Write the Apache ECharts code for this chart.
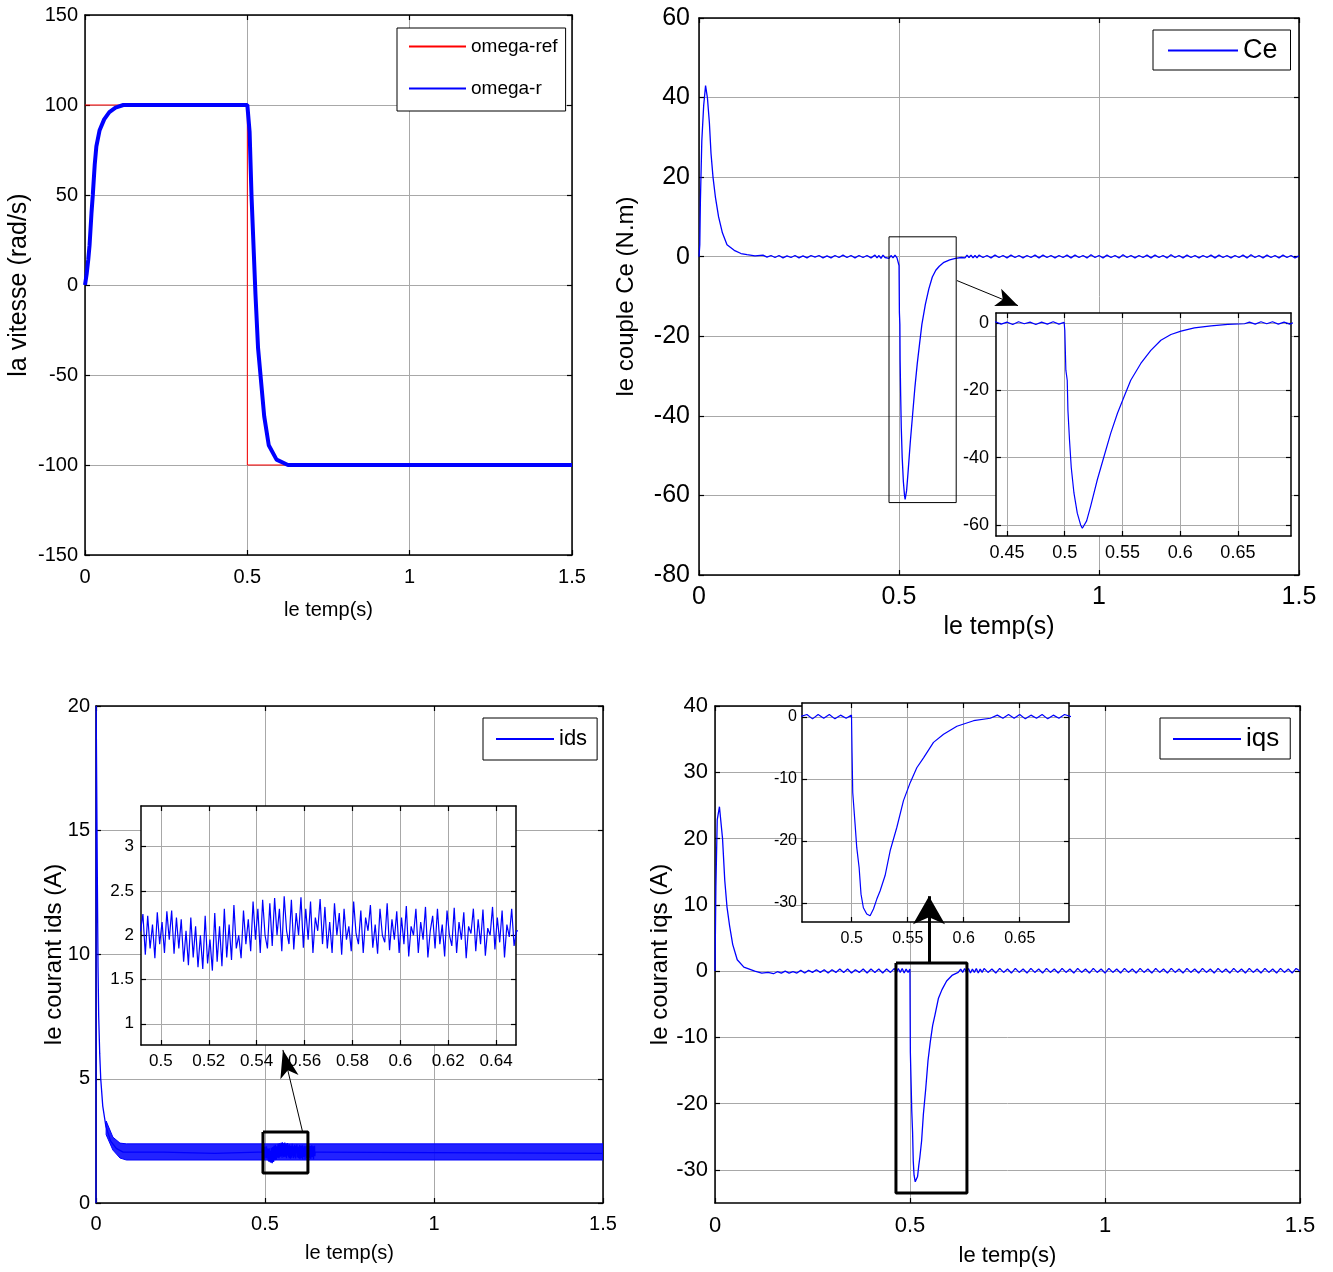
<!DOCTYPE html>
<html><head><meta charset="utf-8">
<script src="https://cdn.jsdelivr.net/npm/echarts@6/dist/echarts.min.js"></script>
<style>html,body{margin:0;padding:0;background:#fff}#c{width:1333px;height:1272px}</style>
</head><body><div id="c"></div>
<script>
// ---------- tick values ----------
const timeTicks = [0, 0.5, 1, 1.5];
const speedTicks = [-150, -100, -50, 0, 50, 100, 150];
const torqueTicks = [-80, -60, -40, -20, 0, 20, 40, 60];
const torqueZoomTimeTicks = [0.45, 0.5, 0.55, 0.6, 0.65];
const torqueZoomTicks = [-60, -40, -20, 0];
const idsTicks = [0, 5, 10, 15, 20];
const idsZoomTimeTicks = [0.5, 0.52, 0.54, 0.56, 0.58, 0.6, 0.62, 0.64];
const idsZoomTicks = [1, 1.5, 2, 2.5, 3];
const iqsTicks = [-30, -20, -10, 0, 10, 20, 30, 40];
const iqsZoomTimeTicks = [0.5, 0.55, 0.6, 0.65];
const iqsZoomTicks = [-30, -20, -10, 0];

// ---------- speed ----------
const omegaRef = [[0,100],[0.5,100],[0.5,-100],[1.5,-100]];
const omegaR = [[0,0],[0.005,6],[0.01,14],[0.014,22],[0.02,40],[0.024,50],[0.03,67],[0.035,77],[0.045,86],[0.059,92],[0.075,96],[0.094,98.5],[0.118,100],[0.5,100],[0.501,99],[0.507,85],[0.513,49],[0.525,-5],[0.533,-35],[0.542,-53],[0.552,-73],[0.566,-89],[0.59,-97],[0.625,-100],[1.5,-100]];

// ---------- torque Ce ----------
const ce = [[0,0],[0.002,3],[0.0035,14],[0.007,29],[0.0117,38],[0.0164,43],[0.021,40],[0.026,33.6],[0.03,26],[0.035,20],[0.041,15],[0.049,10],[0.0585,6],[0.07,3],[0.088,1.6],[0.105,0.8],[0.12,0.5],[0.14,0.2],
[0.16,0.4],[0.17,-0.1],[0.18,0.3],[0.19,-0.2],[0.2,0.3],[0.21,-0.3],[0.22,0.2],[0.23,-0.2],[0.24,0.3],[0.25,-0.3],[0.26,0.2],[0.27,-0.3],[0.28,0.3],[0.29,-0.1],[0.3,0.3],[0.31,-0.3],[0.32,0.2],[0.33,-0.3],[0.34,0.3],[0.35,-0.2],[0.36,0.4],[0.37,-0.2],[0.38,0.3],[0.39,-0.3],[0.4,0.3],[0.41,-0.2],[0.42,0.3],[0.43,-0.3],[0.44,0.4],[0.445,-0.3],[0.45,0.3],[0.455,-0.4],[0.46,0.4],[0.465,-0.2],[0.47,0.3],[0.475,-0.4],[0.48,0.3],[0.485,-0.3],[0.49,0.4],[0.495,-0.3],[0.4995,0.2],
[0.5001,-2.2],[0.501,-14],[0.5022,-17],[0.5028,-26],[0.5042,-35],[0.5057,-43],[0.508,-50.5],[0.5109,-56.5],[0.5138,-60],[0.5153,-61],[0.5167,-60.8],[0.519,-58.8],[0.5225,-54.4],[0.5283,-46.5],[0.5341,-39.6],[0.5399,-32.7],[0.5457,-26.8],[0.5514,-21.9],[0.5572,-17],[0.5659,-12],[0.5746,-8.1],[0.5833,-5.1],[0.592,-3.4],[0.6007,-2.4],[0.6123,-1.4],[0.6268,-0.8],[0.6413,-0.4],[0.6558,-0.2],
[0.66,0.3],[0.665,-0.3],[0.67,0.4],[0.675,-0.2],[0.68,0.4],[0.685,-0.3],[0.69,0.3],[0.695,-0.3],[0.7,0.4],[0.71,-0.2],[0.72,0.3],[0.73,-0.3],[0.74,0.4],[0.75,-0.2],[0.76,0.3],[0.77,-0.3],[0.78,0.4],[0.79,-0.2],[0.8,0.3],[0.81,-0.3],[0.82,0.3],[0.83,-0.2],[0.84,0.4],[0.85,-0.3],[0.86,0.4],[0.87,-0.2],[0.88,0.3],[0.89,-0.3],[0.9,0.3],[0.91,-0.2],[0.92,0.4],[0.93,-0.3],[0.94,0.4],[0.95,-0.2],[0.96,0.3],[0.97,-0.3],[0.98,0.5],[0.99,-0.2],[1,0.3],[1.01,-0.3],[1.02,0.4],[1.03,-0.2],[1.04,0.3],[1.05,-0.3],[1.06,0.5],[1.07,-0.2],[1.08,0.3],[1.09,-0.3],[1.1,0.3],[1.11,-0.2],[1.12,0.4],[1.13,-0.3],[1.14,0.4],[1.15,-0.2],[1.16,0.3],[1.17,-0.3],[1.18,0.5],[1.19,-0.2],[1.2,0.3],[1.21,-0.3],[1.22,0.4],[1.23,-0.2],[1.24,0.3],[1.25,-0.3],[1.26,0.3],[1.27,-0.2],[1.28,0.4],[1.29,-0.3],[1.3,0.4],[1.31,-0.2],[1.32,0.3],[1.33,-0.3],[1.34,0.3],[1.35,-0.2],[1.36,0.4],[1.37,-0.3],[1.38,0.5],[1.39,-0.2],[1.4,0.3],[1.41,-0.3],[1.42,0.4],[1.43,-0.2],[1.44,0.3],[1.45,-0.3],[1.46,0.4],[1.47,-0.2],[1.48,0.3],[1.49,-0.3],[1.5,0.2]];

// ---------- ids ----------
const idsStart = [[0,0],[0.0005,20],[0.002,17],[0.004,13],[0.006,9.5],[0.008,7.5],[0.011,6],[0.014,5],[0.02,3.9],[0.029,3.1],[0.043,2.5],[0.06,2.2],[0.08,2.05],[0.2,2.05],[0.35,2.0],[0.48,2.05]];
const idsZoomStart = 0.4915;
const idsZoomStep = 0.001;
const idsZoomValues = [2.05,2.24,1.78,2.22,1.85,2.12,1.74,2.26,
1.9,2.15,1.8,2.27,1.95,2.28,1.79,2.2,1.85,
2.18,1.7,2.05,1.66,2.2,1.75,2.1,1.64,2.0,
1.62,2.22,1.68,1.95,1.6,2.25,1.7,2.1,1.65,
2.3,1.75,2.12,1.72,2.34,1.85,2.0,1.74,2.28,1.9,2.18,
1.82,2.38,1.95,2.3,1.8,2.4,2.0,1.85,2.36,
1.88,2.42,2.0,2.3,1.82,2.44,2.05,1.9,2.4,1.84,2.25,2.0,2.43,1.86,2.3,1.95,2.38,1.8,2.2,2.05,2.41,1.9,
2.32,1.85,2.15,1.8,2.36,2.0,2.25,1.78,2.3,1.95,2.1,1.82,2.38,2.02,1.9,2.28,1.8,2.2,2.05,2.34,1.86,2.12,1.79,2.3,2.0,1.92,2.36,1.83,2.18,1.95,2.27,1.8,
2.2,1.9,2.33,1.76,2.1,2.0,2.3,1.8,2.15,1.95,2.32,1.75,2.05,2.22,1.85,2.3,1.9,2.12,1.76,2.28,2.0,1.88,2.31,1.8,2.15,1.95,2.26,1.74,2.1,2.02,2.3,1.82,2.18,1.9,2.29,1.77,2.08,2.0,2.32,1.84,2.2,1.92,2.28,1.75,2.12,1.98,2.3,1.88,2.05];
const idsEnd = [[0.66,2.05],[1.5,2.0]];
// ripple envelope of ids in the main plot
const idsBandTime = [0.03, 0.05, 0.071, 0.09, 1.5];
const idsBandLow  = [2.75, 2.13, 1.81, 1.73, 1.73];
const idsBandHigh = [3.3, 2.65, 2.41, 2.38, 2.38];

// ---------- iqs ----------
const iqs = [[0,0],[0.0023,12.8],[0.0057,22.8],[0.0114,24.8],[0.016,24.5],[0.0193,20],[0.025,13.7],[0.0307,9.7],[0.0375,6.8],[0.0455,4],[0.057,1.7],[0.074,0.6],[0.102,0],[0.12,-0.3],[0.136,-0.2],
[0.15,-0.4],[0.16,-0.1],[0.17,-0.3],[0.18,0],[0.19,-0.3],[0.2,-0.1],[0.21,-0.3],[0.22,0.1],[0.23,-0.3],[0.24,0.1],[0.25,-0.2],[0.26,0.2],[0.27,-0.2],[0.28,0.2],[0.29,-0.3],[0.3,0.2],[0.31,-0.2],[0.32,0.3],[0.33,-0.2],[0.34,0.3],[0.35,-0.3],[0.36,0.2],[0.37,-0.2],[0.38,0.3],[0.39,-0.3],[0.4,0.3],[0.41,-0.2],[0.42,0.3],[0.43,-0.3],[0.44,0.3],[0.45,-0.2],[0.46,0.4],[0.465,-0.3],[0.47,0.4],[0.475,-0.2],[0.48,0.4],[0.485,-0.3],[0.49,0.3],[0.495,-0.2],[0.4998,0.3],
[0.5003,-5.8],[0.5009,-12.2],[0.503,-17.3],[0.5045,-21.1],[0.5066,-24.3],[0.5083,-28.6],[0.5104,-30.8],[0.5134,-31.8],[0.5164,-32.1],[0.5194,-31],[0.5224,-29.4],[0.5253,-28.1],[0.5298,-25.6],[0.5343,-21.6],[0.5403,-17.8],[0.5462,-13.5],[0.5522,-10.6],[0.5581,-8.2],[0.5641,-6.6],[0.573,-4.1],[0.582,-2.8],[0.5939,-1.5],[0.6088,-0.6],[0.6237,-0.2],
[0.63,0.3],[0.635,-0.2],[0.64,0.4],[0.645,-0.2],[0.65,0.4],[0.655,-0.3],[0.66,0.3],[0.665,-0.2],[0.67,0.4],[0.675,-0.3],[0.68,0.3],[0.685,-0.2],[0.69,0.4],[0.7,-0.2],[0.71,0.3],[0.72,-0.3],[0.73,0.4],[0.74,-0.2],[0.75,0.3],[0.76,-0.3],[0.77,0.4],[0.78,-0.2],[0.79,0.3],[0.8,-0.3],[0.81,0.4],[0.82,-0.2],[0.83,0.3],[0.84,-0.3],[0.85,0.4],[0.86,-0.2],[0.87,0.3],[0.88,-0.3],[0.89,0.4],[0.9,-0.2],[0.91,0.3],[0.92,-0.3],[0.93,0.4],[0.94,-0.2],[0.95,0.3],[0.96,-0.3],[0.97,0.4],[0.98,-0.2],[0.99,0.3],[1,-0.3],[1.01,0.4],[1.02,-0.2],[1.03,0.3],[1.04,-0.3],[1.05,0.4],[1.06,-0.2],[1.07,0.3],[1.08,-0.3],[1.09,0.4],[1.1,-0.2],[1.11,0.3],[1.12,-0.3],[1.13,0.4],[1.14,-0.2],[1.15,0.3],[1.16,-0.3],[1.17,0.4],[1.18,-0.2],[1.19,0.3],[1.2,-0.3],[1.21,0.4],[1.22,-0.2],[1.23,0.3],[1.24,-0.3],[1.25,0.4],[1.26,-0.2],[1.27,0.3],[1.28,-0.3],[1.29,0.4],[1.3,-0.2],[1.31,0.3],[1.32,-0.3],[1.33,0.4],[1.34,-0.2],[1.35,0.3],[1.36,-0.3],[1.37,0.4],[1.38,-0.2],[1.39,0.3],[1.4,-0.3],[1.41,0.4],[1.42,-0.2],[1.43,0.3],[1.44,-0.3],[1.45,0.4],[1.46,-0.2],[1.47,0.3],[1.48,-0.3],[1.49,0.4],[1.5,0]];

// ---------- zoom boxes and arrows (data coordinates of the main plots) ----------
const ceBox = [[0.475,5],[0.643,5],[0.643,-61.8],[0.475,-61.8],[0.475,5]];
const ceArrow = [[0.645,-6],[0.7975,-12.3]];
const idsBox = [[0.494,2.86],[0.627,2.86],[0.627,1.21],[0.494,1.21],[0.494,2.86]];
const idsArrow = [[0.612,2.82],[0.553,6.16]];
const iqsBox = [[0.464,1.2],[0.646,1.2],[0.646,-33.5],[0.464,-33.5],[0.464,1.2]];
const iqsArrow = [[0.5487,1.2],[0.5487,11.3]];

// ---------- build ----------
const REG = "'Liberation Sans',Arial,sans-serif";
const BLUE = '#0000ff';
const fmt = v => String(+(+v).toFixed(4));

const grids = [], xAxes = [], yAxes = [], series = [], legends = [];

function addPanel(c) {
  const g = grids.length;
  grids.push({left: c.box[0], top: c.box[1], width: c.box[2], height: c.box[3], show: true,
    backgroundColor: '#fff', borderWidth: 0, z: c.z, containLabel: false, outerBoundsMode: 'none'});
  const line = {show: true, onZero: false, lineStyle: {color: '#000', width: 1.5}};
  const tick = t => ({show: true, inside: true, length: 5, customValues: t, lineStyle: {color: '#000', width: 1.2}});
  const split = {show: true, lineStyle: {color: '#a8a8a8', width: 1, type: 'solid'}};
  const lab = (t, m) => ({show: true, customValues: t, margin: m, formatter: fmt, color: '#000', fontFamily: REG, fontSize: c.fs});
  xAxes.push({type: 'value', gridIndex: g, position: 'bottom', min: c.x[0], max: c.x[1], z: c.z + 1,
    axisLine: line, axisTick: tick(c.xt), axisLabel: lab(c.xt, c.xm), splitLine: split,
    name: c.xn || '', nameLocation: 'middle', nameGap: c.xng || 0, nameMoveOverlap: false,
    nameTextStyle: {color: '#000', fontFamily: REG, fontSize: c.nfs}});
  xAxes.push({type: 'value', gridIndex: g, position: 'top', min: c.x[0], max: c.x[1], z: c.z + 1,
    axisLine: line, axisTick: tick(c.xt), axisLabel: {show: false}, splitLine: {show: false}});
  yAxes.push({type: 'value', gridIndex: g, position: 'left', min: c.y[0], max: c.y[1], z: c.z + 1,
    axisLine: line, axisTick: tick(c.yt), axisLabel: lab(c.yt, c.ym), splitLine: split,
    name: c.yn || '', nameLocation: 'middle', nameGap: c.yng || 0, nameMoveOverlap: false,
    nameTextStyle: {color: '#000', fontFamily: REG, fontSize: c.ynfs}});
  yAxes.push({type: 'value', gridIndex: g, position: 'right', min: c.y[0], max: c.y[1], z: c.z + 1,
    axisLine: line, axisTick: tick(c.yt), axisLabel: {show: false}, splitLine: {show: false}});
  return 2 * g;
}

function addLine(ax, name, data, color, width, z, extra) {
  series.push(Object.assign({type: 'line', name: name, xAxisIndex: ax, yAxisIndex: ax, data: data,
    symbol: 'none', showSymbol: false, silent: true, animation: false, clip: true, z: z,
    lineStyle: {color: color, width: width}, itemStyle: {color: color}}, extra || {}));
}

function addBand(ax, time, low, high, color, z) {
  series.push({type: 'custom', name: 'band', xAxisIndex: ax, yAxisIndex: ax, silent: true, animation: false, clip: true, z: z,
    data: [[time[0], low[0]]],
    renderItem: function (params, api) {
      const up = time.map((t, i) => api.coord([t, high[i]]));
      const dn = time.map((t, i) => api.coord([t, low[i]])).reverse();
      return {type: 'polygon', shape: {points: up.concat(dn)}, style: {fill: color, stroke: BLUE, lineWidth: 1}};
    }});
}

function addBox(ax, name, box, arrow, w, lw, size) {
  addLine(ax, name, box, '#000', w, 30, {clip: false, markLine: {silent: true, animation: false, z: 30,
    symbol: ['none', 'arrow'], label: {show: false},
    lineStyle: {color: '#000', width: lw, type: 'solid'}, emphasis: {disabled: true},
    data: [[{coord: arrow[0], symbol: 'none'}, {coord: arrow[1], symbol: 'arrow', symbolSize: size}]]}});
}

// Panel 1: speed
const a1 = addPanel({box: [85, 15, 487, 540], z: 0, x: [0, 1.5], xt: timeTicks, y: [-150, 150], yt: speedTicks,
  fs: 20, nfs: 20, xm: 12, ym: 7, xn: 'le temp(s)', xng: 45, yn: 'la vitesse (rad/s)', yng: 53, ynfs: 25});
addLine(a1, 'omega-ref', omegaRef, '#ff0000', 1, 2);
addLine(a1, 'omega-r', omegaR, BLUE, 4, 3);

// Panel 2: torque
const a2 = addPanel({box: [699, 18, 600, 557], z: 0, x: [0, 1.5], xt: timeTicks, y: [-80, 60], yt: torqueTicks,
  fs: 25, nfs: 25, xm: 10, ym: 9, xn: 'le temp(s)', xng: 40, yn: 'le couple Ce (N.m)', yng: 61, ynfs: 24});
addLine(a2, 'Ce', ce, BLUE, 1.3, 2);
addBox(a2, 'ceBox', ceBox, ceArrow, 1, 1, [14, 22]);
const a2z = addPanel({box: [996, 313, 295, 223], z: 10, x: [0.4405, 0.696], xt: torqueZoomTimeTicks, y: [-63.3, 3], yt: torqueZoomTicks,
  fs: 18, nfs: 18, xm: 8, ym: 7});
addLine(a2z, 'Ce', ce, BLUE, 1.2, 12);

// Panel 3: ids
const a3 = addPanel({box: [96, 706, 507, 497], z: 0, x: [0, 1.5], xt: timeTicks, y: [0, 20], yt: idsTicks,
  fs: 20, nfs: 20, xm: 11, ym: 6, xn: 'le temp(s)', xng: 40, yn: 'le courant ids (A)', yng: 30, ynfs: 24});
const idsSignal = idsStart.concat(idsZoomValues.map((v, i) => [idsZoomStart + i * idsZoomStep, v])).concat(idsEnd);
addBand(a3, idsBandTime, idsBandLow, idsBandHigh, 'rgba(10,10,255,0.9)', 2);
addLine(a3, 'ids', idsSignal, BLUE, 1.3, 3);
addBox(a3, 'idsBox', idsBox, idsArrow, 3, 1, [14, 28]);
const a3z = addPanel({box: [141, 806, 375, 239], z: 10, x: [0.4917, 0.6483], xt: idsZoomTimeTicks, y: [0.76, 3.46], yt: idsZoomTicks,
  fs: 17, nfs: 17, xm: 8, ym: 7});
addLine(a3z, 'ids', idsSignal, BLUE, 1.2, 12);

// Panel 4: iqs
const a4 = addPanel({box: [715, 706, 585, 497], z: 0, x: [0, 1.5], xt: timeTicks, y: [-35, 40], yt: iqsTicks,
  fs: 22, nfs: 22, xm: 12, ym: 7, xn: 'le temp(s)', xng: 42, yn: 'le courant iqs (A)', yng: 43, ynfs: 24});
addLine(a4, 'iqs', iqs, BLUE, 1.3, 2);
addBox(a4, 'iqsBox', iqsBox, iqsArrow, 3, 3, [24, 28]);
const a4z = addPanel({box: [802, 703, 267, 219], z: 10, x: [0.4556, 0.694], xt: iqsZoomTimeTicks, y: [-33.1, 2.26], yt: iqsZoomTicks,
  fs: 16, nfs: 16, xm: 9, ym: 5});
addLine(a4z, 'iqs', iqs, BLUE, 1.2, 12);

function legend(names, left, top, fs, iw, pad, gap) {
  legends.push({show: true, data: names, left: left, top: top, orient: 'vertical', z: 20,
    itemWidth: iw, itemHeight: 2, itemGap: gap || 10, padding: pad, selectedMode: false,
    itemStyle: {opacity: 0},
    backgroundColor: '#fff', borderColor: '#000', borderWidth: 1, borderRadius: 0,
    textStyle: {color: '#000', fontFamily: REG, fontSize: fs}});
}
legend(['omega-ref', 'omega-r'], 397, 28, 19, 57, [9, 8, 13, 11], 23);
legend(['Ce'], 1153, 30, 27, 70, [7, 13, 6, 14]);
legend(['ids'], 483, 718, 22, 58, [10, 10, 10, 12]);
legend(['iqs'], 1160, 718, 26, 68, [8, 11, 7, 12]);

const chart = echarts.init(document.getElementById('c'), null, {renderer: 'canvas'});
chart.setOption({animation: false, backgroundColor: '#fff', grid: grids, xAxis: xAxes, yAxis: yAxes, series: series, legend: legends});
</script></body></html>
